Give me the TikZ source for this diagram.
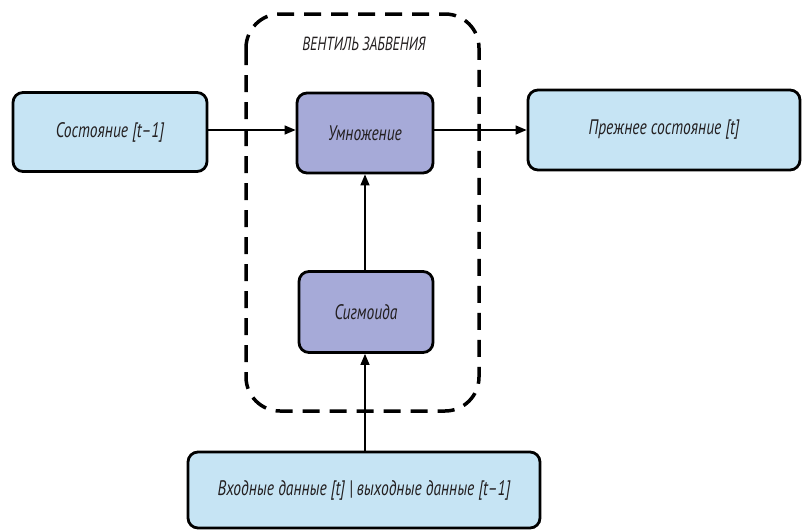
\documentclass[tikz,border=0pt]{standalone}
\usepackage{fontspec}
\setmainfont{PT Sans}[FakeStretch=0.74]
\usetikzlibrary{arrows.meta}
\definecolor{statefill}{RGB}{198,228,244}
\definecolor{gatefill}{RGB}{166,170,216}
\definecolor{ink}{RGB}{35,31,32}
\begin{document}
\begin{tikzpicture}[x=1pt,y=-1pt,
  font=\fontsize{21}{24}\selectfont\itshape, text=ink,
  box/.style={draw=black, line width=2.8pt, rounded corners=10pt, inner sep=0pt, align=center},
  statebox/.style={box, fill=statefill},
  gatebox/.style={box, fill=gatefill},
  link/.style={line width=1.3pt, -{Triangle[length=11pt,width=9pt]}}]
\useasboundingbox (0,0) rectangle (808,530);
% forget gate frame
\draw[line width=3.5pt, dash pattern=on 17pt off 10pt, rounded corners=34pt]
  (246,14) rectangle (479,411);
\node[font=\fontsize{19}{22}\selectfont\itshape] (title) at (364,44) {ВЕНТИЛЬ ЗАБВЕНИЯ};
% boxes
\node[statebox, minimum width=194pt, minimum height=79pt] (prev) at (110,132) {Состояние [t–1]};
\node[gatebox, minimum width=136pt, minimum height=80pt] (mult) at (365,133) {Умножение};
\node[statebox, minimum width=272pt, minimum height=80pt] (next) at (664,130) {Прежнее состояние [t]};
\node[gatebox, minimum width=134pt, minimum height=81pt] (sig) at (366,312) {Сигмоида};
\node[statebox, minimum width=352pt, minimum height=76pt] (inp) at (364,490) {Входные данные [t] | выходные данные [t–1]};
% connectors
\draw[link] (prev.east |- 0,130) -- (mult.west |- 0,130);
\draw[link] (mult.east |- 0,130) -- (next.west |- 0,130);
\draw[link] (sig.north -| 365,0) -- (mult.south -| 365,0);
\draw[link] (inp.north -| 365,0) -- (sig.south -| 365,0);
\end{tikzpicture}
\end{document}
